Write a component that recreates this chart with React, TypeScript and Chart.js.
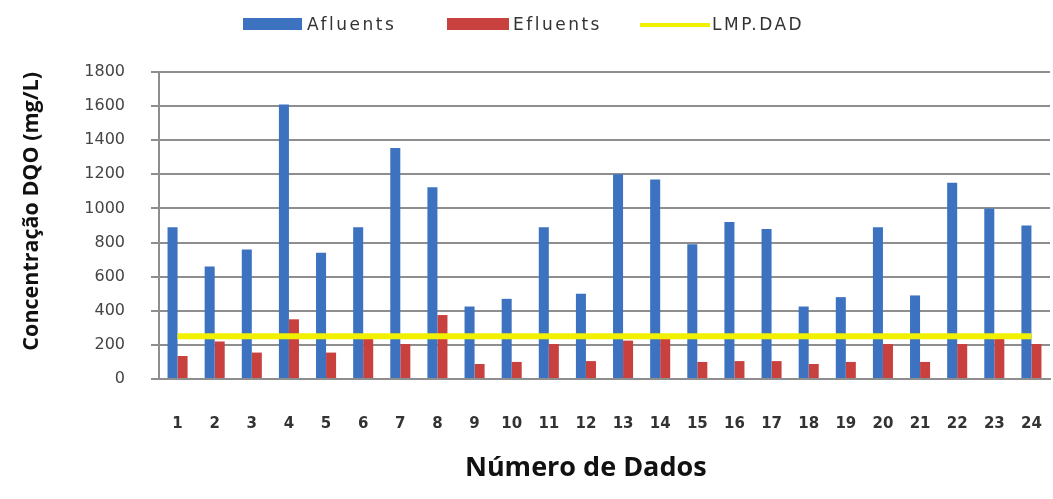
import React, { useEffect, useRef } from 'react';
import { Chart, registerables } from 'chart.js';

Chart.register(...registerables);

const categories = ['1', '2', '3', '4', '5', '6', '7', '8', '9', '10', '11', '12', '13', '14', '15', '16', '17', '18', '19', '20', '21', '22', '23', '24'];
const afluentes = [890, 660, 760, 1610, 740, 890, 1355, 1125, 425, 470, 890, 500, 1200, 1170, 790, 920, 880, 425, 480, 890, 490, 1150, 1000, 900];
const efluentes = [135, 220, 155, 350, 155, 240, 205, 375, 88, 100, 205, 105, 225, 240, 100, 105, 105, 88, 100, 205, 100, 205, 240, 205];
const lmpDad = [250, 250, 250, 250, 250, 250, 250, 250, 250, 250, 250, 250, 250, 250, 250, 250, 250, 250, 250, 250, 250, 250, 250, 250];

const X_TITLE = 'Número de Dados';
const Y_TITLE = 'Concentração DQO (mg/L)';

const BLUE = '#3d72c1';
const RED = '#c9413e';
const YELLOW = '#f0f000';
const GRID = '#8e8e8e';

const legendText: React.CSSProperties = {
  position: 'absolute',
  top: 14,
  fontFamily: '"DejaVu Sans", sans-serif',
  fontSize: 17,
  letterSpacing: '2.5px',
  color: '#333',
  lineHeight: '20px',
  whiteSpace: 'nowrap',
};

const xTitlePlugin = {
  id: 'xTitleText',
  afterDraw(chart: any) {
    const { ctx, chartArea } = chart;
    const xScale = chart.scales.x;
    ctx.save();
    ctx.font = 'bold 27px "Open Sans", sans-serif';
    ctx.fillStyle = '#111';
    ctx.textAlign = 'center';
    ctx.textBaseline = 'middle';
    ctx.fillText(X_TITLE, chartArea.left + chartArea.width * 0.479, xScale.bottom - 16);
    ctx.restore();
  },
};

export default function App() {
  const ref = useRef<HTMLCanvasElement>(null);

  useEffect(() => {
    const chart = new Chart(ref.current!, {
      type: 'bar',
      data: {
        labels: categories,
        datasets: [
          {
            label: 'Afluents',
            data: afluentes,
            backgroundColor: BLUE,
            order: 1,
            categoryPercentage: 0.54,
            barPercentage: 1,
          },
          {
            label: 'Efluents',
            data: efluentes,
            backgroundColor: RED,
            order: 1,
            categoryPercentage: 0.54,
            barPercentage: 1,
          },
          {
            type: 'line',
            label: 'LMP.DAD',
            data: lmpDad,
            borderColor: YELLOW,
            backgroundColor: YELLOW,
            borderWidth: 6,
            pointRadius: 0,
            fill: false,
            order: 0,
          } as any,
        ],
      },
      options: {
        responsive: false,
        animation: false,
        layout: { padding: { top: 72, left: 19, right: 3, bottom: 15 } },
        plugins: {
          legend: { display: false },
          tooltip: { enabled: false },
        },
        scales: {
          x: {
            offset: true,
            grid: {
              display: true,
              drawOnChartArea: false,
              drawTicks: true,
              tickLength: 36,
              color: 'rgba(0,0,0,0)',
            },
            border: { display: true, color: GRID, width: 2 },
            ticks: {
              padding: 0,
              autoSkip: false,
              maxRotation: 0,
              color: '#333',
              font: { family: '"DejaVu Sans", sans-serif', size: 15, weight: 'bold' },
            },
            afterFit: (s: any) => {
              s.height = 105;
            },
          },
          y: {
            min: 0,
            max: 1800,
            ticks: {
              stepSize: 200,
              padding: 26,
              color: '#444',
              font: { family: '"DejaVu Sans", sans-serif', size: 16 },
              callback: (v: any) => String(v),
            },
            grid: { color: GRID, lineWidth: 2, tickLength: 8 },
            border: { display: true, color: GRID, width: 2 },
            title: {
              display: true,
              text: Y_TITLE,
              align: 'end',
              color: '#111',
              padding: 0,
              font: { family: '"Open Sans", sans-serif', size: 21.5, weight: 'bold' },
            },
            afterFit: (s: any) => {
              s.width = 140;
            },
          },
        },
      },
      plugins: [xTitlePlugin],
    });
    return () => chart.destroy();
  }, []);

  return (
    <div style={{ position: 'absolute', left: 0, top: 0, width: 1053, height: 499, background: '#fff' }}>
      <canvas ref={ref} width={1053} height={499} style={{ display: 'block' }} />
      <div style={{ position: 'absolute', left: 243, top: 18, width: 59, height: 12, background: BLUE }} />
      <div style={{ ...legendText, left: 307 }}>Afluents</div>
      <div style={{ position: 'absolute', left: 447, top: 18, width: 62, height: 12, background: RED }} />
      <div style={{ ...legendText, left: 513 }}>Efluents</div>
      <div style={{ position: 'absolute', left: 640, top: 23, width: 70, height: 4, background: YELLOW }} />
      <div style={{ ...legendText, left: 712 }}>LMP.DAD</div>
    </div>
  );
}
